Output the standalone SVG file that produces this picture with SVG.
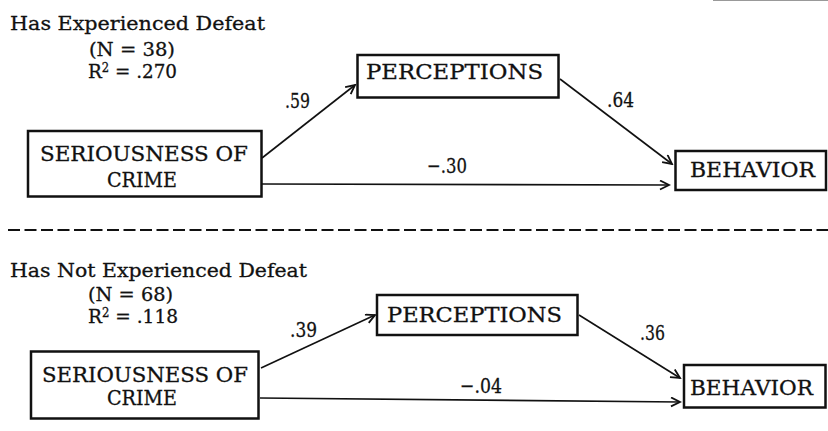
<svg xmlns="http://www.w3.org/2000/svg" width="828" height="431" viewBox="0 0 828 431">
<style>
text{font-family:"DejaVu Serif","Liberation Serif",serif;font-size:21px;fill:#111;stroke:#111;stroke-width:0.3}
.hd{font-size:19px}
.box{fill:#fff;stroke:#111;stroke-width:2.5}
.edge{fill:none;stroke:#111;stroke-width:1.6}
.sup{font-size:12px}
</style>
<defs>
<marker id="ah" markerWidth="12" markerHeight="12" refX="10" refY="5" orient="auto" markerUnits="userSpaceOnUse">
<path d="M1,0.5 L10,5 L1,9.5" fill="none" stroke="#111" stroke-width="1.8"/>
</marker>
</defs>
<rect width="828" height="431" fill="#fff"/>
<line x1="713" y1="0.5" x2="828" y2="0.5" stroke="#999" stroke-width="1.2"/>

<g id="title-top">
<text class="hd" x="10" y="30" textLength="255" lengthAdjust="spacingAndGlyphs">Has Experienced Defeat</text>
<text class="hd" x="89" y="56" textLength="86" lengthAdjust="spacingAndGlyphs">(N = 38)</text>
<text class="hd" x="88" y="78" textLength="89" lengthAdjust="spacingAndGlyphs">R<tspan class="sup" dy="-6">2</tspan><tspan dy="6"> = .270</tspan></text>
</g>

<g id="connectors-top">
<line class="edge" x1="262" y1="158" x2="355" y2="85" marker-end="url(#ah)"/>
<line class="edge" x1="560" y1="79" x2="672" y2="164" marker-end="url(#ah)"/>
<line class="edge" x1="262" y1="184" x2="669" y2="185" marker-end="url(#ah)"/>
<text x="285" y="108" textLength="25" lengthAdjust="spacingAndGlyphs">.59</text>
<text x="607" y="107" textLength="27" lengthAdjust="spacingAndGlyphs">.64</text>
<text x="427" y="173" textLength="40" lengthAdjust="spacingAndGlyphs">−.30</text>
</g>

<g id="seriousness-top">
<rect class="box" x="28" y="131" width="233.5" height="65.5"/>
<text x="40" y="161" textLength="208" lengthAdjust="spacingAndGlyphs">SERIOUSNESS OF</text>
<text x="107" y="187" textLength="70" lengthAdjust="spacingAndGlyphs">CRIME</text>
</g>
<g id="perceptions-top">
<rect class="box" x="357.5" y="55" width="201" height="42.5"/>
<text x="366" y="79" textLength="177" lengthAdjust="spacingAndGlyphs">PERCEPTIONS</text>
</g>
<g id="behavior-top">
<rect class="box" x="675.5" y="151" width="150.5" height="39"/>
<text x="690" y="177" textLength="125" lengthAdjust="spacingAndGlyphs">BEHAVIOR</text>
</g>

<line x1="8" y1="230" x2="828" y2="230" stroke="#111" stroke-width="1.8" stroke-dasharray="12,4.5"/>

<g id="title-bottom">
<text class="hd" x="10" y="277" textLength="297" lengthAdjust="spacingAndGlyphs">Has Not Experienced Defeat</text>
<text class="hd" x="88" y="301" textLength="85" lengthAdjust="spacingAndGlyphs">(N = 68)</text>
<text class="hd" x="88" y="323" textLength="90" lengthAdjust="spacingAndGlyphs">R<tspan class="sup" dy="-6">2</tspan><tspan dy="6"> = .118</tspan></text>
</g>

<g id="connectors-bottom">
<line class="edge" x1="261" y1="368" x2="375" y2="315" marker-end="url(#ah)"/>
<line class="edge" x1="579" y1="315" x2="680" y2="378" marker-end="url(#ah)"/>
<line class="edge" x1="260" y1="398" x2="680" y2="402" marker-end="url(#ah)"/>
<text x="290" y="337" textLength="27" lengthAdjust="spacingAndGlyphs">.39</text>
<text x="640" y="340" textLength="25" lengthAdjust="spacingAndGlyphs">.36</text>
<text x="460" y="393" textLength="42" lengthAdjust="spacingAndGlyphs">−.04</text>
</g>

<g id="seriousness-bottom">
<rect class="box" x="31" y="351.5" width="227.5" height="67"/>
<text x="42" y="382" textLength="206" lengthAdjust="spacingAndGlyphs">SERIOUSNESS OF</text>
<text x="107" y="405" textLength="70" lengthAdjust="spacingAndGlyphs">CRIME</text>
</g>
<g id="perceptions-bottom">
<rect class="box" x="377" y="295" width="200.5" height="40"/>
<text x="387" y="322" textLength="175" lengthAdjust="spacingAndGlyphs">PERCEPTIONS</text>
</g>
<g id="behavior-bottom">
<rect class="box" x="684" y="365" width="141.5" height="42.5"/>
<text x="690" y="395" textLength="123" lengthAdjust="spacingAndGlyphs">BEHAVIOR</text>
</g>
</svg>
